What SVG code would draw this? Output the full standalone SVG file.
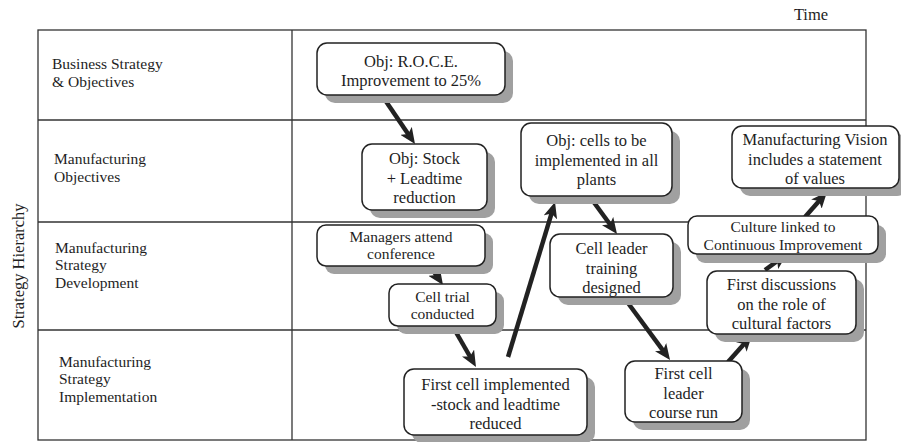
<svg xmlns="http://www.w3.org/2000/svg" width="901" height="442" viewBox="0 0 901 442">
<defs>
<style>
text{font-family:"Liberation Serif","Times New Roman",serif;font-size:16.5px;fill:#1e1e1e}
.c{text-anchor:middle}
.s{font-size:15.5px}
.grid{stroke:#333;stroke-width:1.3;fill:none}
.box{fill:#fff;stroke:#222;stroke-width:1.5}
.sh{fill:#a0a0a0}
.arr{stroke:#222;stroke-width:4.5;fill:none;marker-end:url(#ah)}
</style>
<marker id="ah" viewBox="0 0 16 14" refX="8" refY="7" markerWidth="16" markerHeight="14" markerUnits="userSpaceOnUse" orient="auto">
<path d="M0,0 L16,7 L0,14 L4,7 z" fill="#222"/>
</marker>
</defs>
<rect width="901" height="442" fill="#fff"/>
<g id="table">
<rect class="grid" x="38" y="30" width="828" height="410"/>
<line class="grid" x1="292" y1="30" x2="292" y2="440"/>
<line class="grid" x1="38" y1="120" x2="866" y2="120"/>
<line class="grid" x1="38" y1="222" x2="866" y2="222"/>
<line class="grid" x1="38" y1="330" x2="866" y2="330"/>
</g>
<g id="axis-labels">
<text class="c" x="811" y="20">Time</text>
<text class="c" transform="translate(24,266) rotate(-90)">Strategy Hierarchy</text>
</g>
<g id="row-labels" class="s">
<text class="s" x="52" y="69">Business Strategy</text>
<text class="s" x="52" y="86.5">&amp; Objectives</text>
<text class="s" x="54" y="164">Manufacturing</text>
<text class="s" x="54" y="181.5">Objectives</text>
<text class="s" x="55" y="252.5">Manufacturing</text>
<text class="s" x="55" y="270">Strategy</text>
<text class="s" x="55" y="287.5">Development</text>
<text class="s" x="59" y="366.5">Manufacturing</text>
<text class="s" x="59" y="384">Strategy</text>
<text class="s" x="59" y="401.5">Implementation</text>
</g>
<g id="connectors">
<line class="arr" x1="383" y1="97" x2="410.5" y2="137.4"/>
<line class="arr" x1="428" y1="263" x2="438.5" y2="278.4"/>
<line class="arr" x1="453" y1="327" x2="472" y2="360"/>
<line class="arr" x1="508" y1="357" x2="552.7" y2="209.7"/>
<line class="arr" x1="590" y1="197" x2="612.3" y2="227.5"/>
<line class="arr" x1="628" y1="303" x2="665.3" y2="353.6"/>
<line class="arr" x1="728" y1="362" x2="746.7" y2="341"/>
<line class="arr" x1="765" y1="270" x2="780.5" y2="258.7"/>
<line class="arr" x1="805" y1="217" x2="821.7" y2="198"/>
</g>
<g id="n-roce">
<rect class="sh" x="325" y="51" width="188" height="52" rx="10"/>
<rect class="box" x="317" y="43" width="188" height="52" rx="10"/>
<text class="c" x="411" y="66.5">Obj: R.O.C.E.</text>
<text class="c" x="411" y="86">Improvement to 25%</text>
</g>
<g id="n-stock">
<rect class="sh" x="370" y="152" width="125" height="66" rx="10"/>
<rect class="box" x="362" y="144" width="125" height="66" rx="10"/>
<text class="c" x="424.5" y="164">Obj: Stock</text>
<text class="c" x="424.5" y="184">+ Leadtime</text>
<text class="c" x="424.5" y="203">reduction</text>
</g>
<g id="n-cells">
<rect class="sh" x="529" y="131" width="151" height="73" rx="10"/>
<rect class="box" x="521" y="123" width="151" height="73" rx="10"/>
<text class="c" x="596.5" y="146">Obj: cells to be</text>
<text class="c" x="596.5" y="165.5">implemented in all</text>
<text class="c" x="596.5" y="185">plants</text>
</g>
<g id="n-vision">
<rect class="sh" x="740" y="134" width="167" height="62" rx="10"/>
<rect class="box" x="732" y="126" width="167" height="62" rx="10"/>
<text class="c" x="815" y="145">Manufacturing Vision</text>
<text class="c" x="815" y="164.5">includes a statement</text>
<text class="c" x="815" y="184">of values</text>
</g>
<g id="n-culture">
<rect class="sh" x="696" y="225" width="190" height="38" rx="9"/>
<rect class="box" x="688" y="216" width="190" height="38" rx="9"/>
<text class="c s" x="783" y="232">Culture linked to</text>
<text class="c s" x="783" y="249.5">Continuous Improvement</text>
</g>
<g id="n-discussions">
<rect class="sh" x="715" y="279" width="149" height="63" rx="10"/>
<rect class="box" x="707" y="271" width="149" height="63" rx="10"/>
<text class="c" x="781.5" y="290">First discussions</text>
<text class="c" x="781.5" y="309.5">on the role of</text>
<text class="c" x="781.5" y="329">cultural factors</text>
</g>
<g id="n-training">
<rect class="sh" x="558" y="242" width="123" height="63" rx="10"/>
<rect class="box" x="550" y="234" width="123" height="63" rx="10"/>
<text class="c" x="611.5" y="254">Cell leader</text>
<text class="c" x="611.5" y="273.5">training</text>
<text class="c" x="611.5" y="293">designed</text>
</g>
<g id="n-course">
<rect class="sh" x="633" y="369" width="117" height="61" rx="10"/>
<rect class="box" x="625" y="361" width="117" height="61" rx="10"/>
<text class="c" x="683.5" y="379">First cell</text>
<text class="c" x="683.5" y="398.5">leader</text>
<text class="c" x="683.5" y="418">course run</text>
</g>
<g id="n-firstcell">
<rect class="sh" x="412" y="377" width="183" height="66" rx="10"/>
<rect class="box" x="404" y="369" width="183" height="66" rx="10"/>
<text class="c" x="495.5" y="390">First cell implemented</text>
<text class="c" x="495.5" y="409.5">-stock and leadtime</text>
<text class="c" x="495.5" y="429">reduced</text>
</g>
<g id="n-managers">
<rect class="sh" x="325" y="233" width="168" height="41" rx="9"/>
<rect class="box" x="317" y="225" width="168" height="41" rx="9"/>
<text class="c s" x="401" y="241.5">Managers attend</text>
<text class="c s" x="401" y="259">conference</text>
</g>
<g id="n-trial">
<rect class="sh" x="397" y="292" width="107" height="42" rx="9"/>
<rect class="box" x="389" y="284" width="107" height="42" rx="9"/>
<text class="c s" x="442.5" y="301.5">Cell trial</text>
<text class="c s" x="442.5" y="319">conducted</text>
</g>
</svg>
